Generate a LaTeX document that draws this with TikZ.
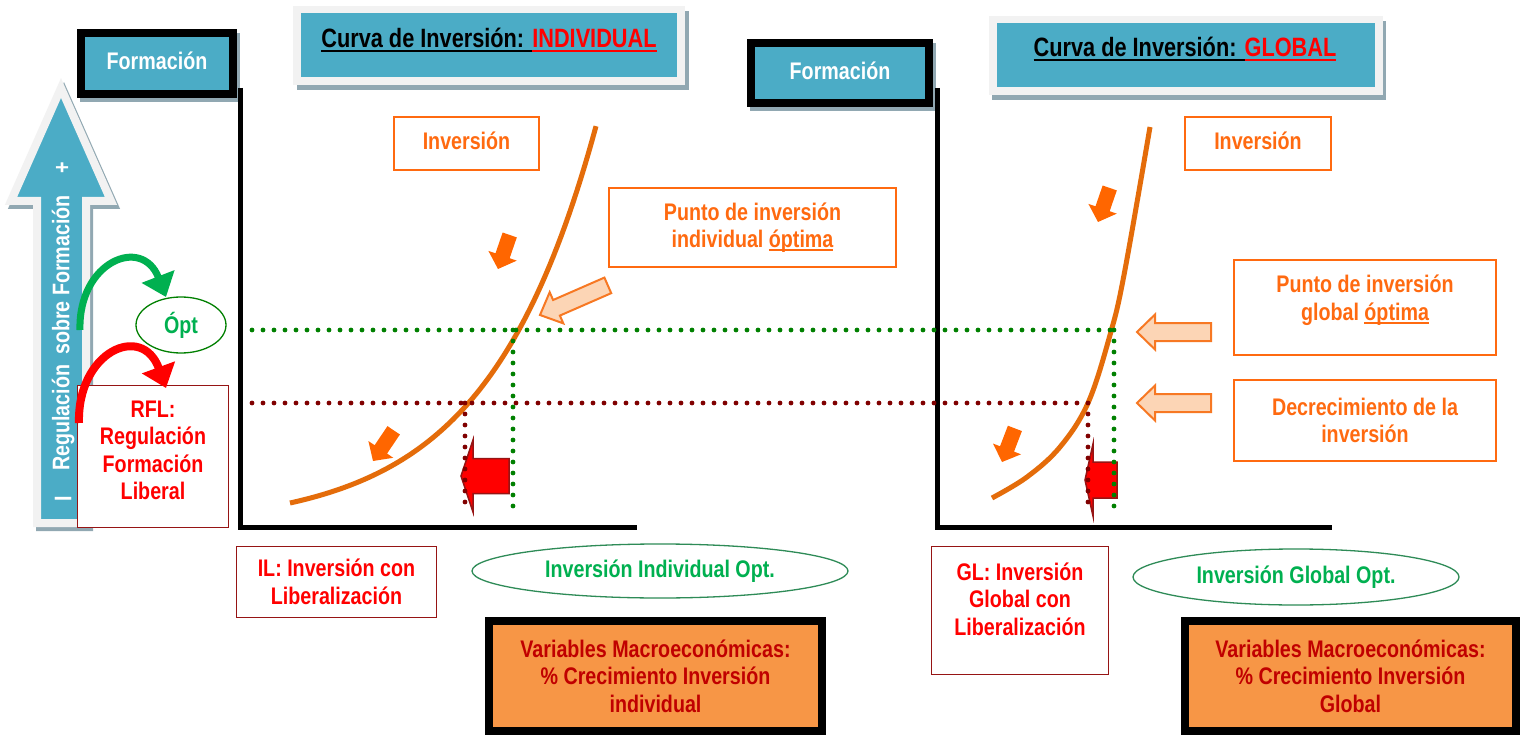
\documentclass[tikz,border=0pt]{standalone}
\usepackage{fontspec}
\setmainfont{Liberation Sans}[FakeStretch=0.82]
\usetikzlibrary{arrows.meta,shapes.geometric}
\pgfdeclarelayer{bg}
\pgfsetlayers{bg,main}
\definecolor{cTeal}{RGB}{75,172,198}
\definecolor{cLight}{RGB}{242,242,242}
\definecolor{cShadow}{RGB}{145,168,178}
\definecolor{cOrange}{RGB}{255,106,16}
\definecolor{cCurve}{RGB}{228,108,10}
\definecolor{cArrowO}{RGB}{255,102,0}
\definecolor{cPale}{RGB}{252,213,181}
\definecolor{cPaleEdge}{RGB}{247,120,35}
\definecolor{cBoxRed}{RGB}{150,20,20}
\definecolor{cRedText}{RGB}{255,0,0}
\definecolor{cGreen}{RGB}{0,176,80}
\definecolor{cDGreen}{RGB}{0,128,0}
\definecolor{cEllG}{RGB}{46,139,87}
\definecolor{cVarFill}{RGB}{247,150,70}
\definecolor{cVarText}{RGB}{192,0,0}
\definecolor{cDotRed}{RGB}{128,0,0}
\newcommand\myul[1]{\setbox0=\hbox{#1}\rlap{\rule[-3.6pt]{\wd0}{1.8pt}}\box0}
\newcommand\myfont{\fontsize{24}{27.5}\selectfont\bfseries}
\newcommand\mytitlefont{\fontsize{26.5}{30}\selectfont\bfseries}
\newcommand\myblockarrow[7]{%
  \path[#7, shift={#1}, rotate=#2] (0,0) -- (#4,{#5/2}) -- (#4,{#6/2}) -- (#3,{#6/2})
    -- (#3,{-#6/2}) -- (#4,{-#6/2}) -- (#4,{-#5/2}) -- cycle;}
\tikzset{
  txt/.style={font=\myfont, align=center, inner sep=0pt},
  obox/.style={txt, draw=cOrange, line width=2pt, text=cOrange, fill=white},
  rbox/.style={txt, draw=cBoxRed, line width=1.6pt, text=cRedText, fill=white},
  fbox/.style={txt, draw=black, line width=8pt, fill=cTeal, text=white},
  tbox/.style={draw=cLight, line width=7.5pt, fill=cTeal, inner sep=0pt},
  vbox/.style={txt, draw=black, line width=8pt, fill=cVarFill, text=cVarText},
  gell/.style={txt, ellipse, draw=cEllG, line width=1.3pt, text=cGreen, fill=white},
  gdot/.style={cDGreen, line width=4.8pt, line cap=round, dash pattern=on 0pt off 11pt},
  rdot/.style={cDotRed, line width=4.8pt, line cap=round, dash pattern=on 0pt off 11pt},
  axisline/.style={line width=5pt, black},
  invcurve/.style={cCurve, line width=5pt},
  oarr/.style={fill=cArrowO},
  parr/.style={fill=cPale, draw=cPaleEdge, line width=2pt},
  redarr/.style={fill=red, draw=cBoxRed, line width=1.5pt},
  shad/.style={fill=cShadow},
  vtxt/.style={font=\fontsize{24}{27}\selectfont\bfseries, text=white, rotate=90, inner sep=0pt},
}
\begin{document}
\begin{tikzpicture}[x=1pt, y=-1pt, line join=miter]
\useasboundingbox (0,0) rectangle (1520,735);
\begin{pgfonlayer}{bg}
  \fill[white] (0,0) rectangle (1520,735);
\end{pgfonlayer}

% ---------- big vertical arrow ----------
\begin{pgfonlayer}{bg}
  \draw[cShadow, fill=cShadow, line width=8pt, shift={(3,4)}]
    (61,88) -- (111,201) -- (86,201) -- (86,523) -- (37,523) -- (37,201) -- (11,201) -- cycle;
\end{pgfonlayer}
\draw[cLight, fill=cTeal, line width=8pt]
  (61,88) -- (111,201) -- (86,201) -- (86,523) -- (37,523) -- (37,201) -- (11,201) -- cycle;
\node[vtxt] (plusT) at (63,168) {+};
\node[vtxt] (regT) at (63,333) {Regulación\hspace{10pt}sobre Formación};
\node[vtxt] (minusT) at (63,499) {I};

% ---------- Formación boxes ----------
\node[fbox, minimum width=152, minimum height=61, text depth=5pt] (formL) at (157,63.5) {Formación};
\node[fbox, minimum width=178, minimum height=60, text depth=5pt] (formR) at (840,73) {Formación};
\begin{pgfonlayer}{bg}
  \fill[shad] ([shift={(3,4)}]formL.north west) rectangle ([shift={(3,4)}]formL.south east);
  \fill[shad] ([shift={(3,4)}]formR.north west) rectangle ([shift={(3,4)}]formR.south east);
\end{pgfonlayer}

% ---------- title boxes ----------
\node[tbox, minimum width=384, minimum height=71.5] (titleL) at (489,45.25) {};
\node[tbox, minimum width=386, minimum height=71.5] (titleR) at (1186,55.25) {};
\begin{pgfonlayer}{bg}
  \fill[shad] ([shift={(4,5)}]titleL.north west) rectangle ([shift={(4,5)}]titleL.south east);
  \fill[shad] ([shift={(3,5)}]titleR.north west) rectangle ([shift={(3,5)}]titleR.south east);
\end{pgfonlayer}
\node[font=\mytitlefont, inner sep=0pt, anchor=base] (titleLtxt) at (489,48)
  {\myul{Curva de Inversión: }\textcolor{cRedText}{\myul{INDIVIDUAL}}};
\node[font=\mytitlefont, inner sep=0pt, anchor=base] (titleRtxt) at (1185,57)
  {\myul{Curva de Inversión: }\textcolor{cRedText}{\myul{GLOBAL}}};

% ---------- orange label boxes ----------
\node[obox, minimum width=145, minimum height=53, text depth=6pt] (invL) at (466.5,143.5) {Inversión};
\node[obox, minimum width=146, minimum height=53, text depth=6pt] (invR) at (1258,143.5) {Inversión};
\node[obox, minimum width=287, minimum height=79] (puntoI) at (752.5,227.5) {Punto de inversión\\individual \myul{óptima}};
\node[obox, minimum width=262, minimum height=95] (puntoG) at (1365,307.5) {};
\node[txt, text=cOrange] (puntoGtxt) at (1365,300) {Punto de inversión\\global \myul{óptima}};
\node[obox, minimum width=262, minimum height=81] (decr) at (1365,420.5) {Decrecimiento de la\\inversión};

% ---------- axes ----------
\coordinate (yTopL) at (240,88);
\coordinate (origL) at (240,527);
\coordinate (xEndL) at (637,527);
\coordinate (yTopR) at (937,88);
\coordinate (origR) at (937,527);
\coordinate (xEndR) at (1332,527);
\draw[axisline] (yTopL) -- (origL) -- (xEndL);
\draw[axisline] (yTopR) -- (origR) -- (xEndR);

% ---------- red block arrows ----------
\myblockarrow{(461,476)}{0}{48}{12}{72}{35}{redarr}
\myblockarrow{(1085,480)}{0}{32}{8}{72}{36}{redarr}

% ---------- investment curves ----------
\draw[invcurve] plot[domain=290:596, samples=80] (\x, {527-24*exp(0.0092*(\x-290))});
\draw[invcurve] plot[smooth, tension=0.6] coordinates
  {(992,498) (1027,477) (1060,447) (1088,403) (1110,335) (1124,275) (1150,127)};

% ---------- dotted guide lines ----------
\coordinate (gStart) at (252,330);
\coordinate (gOptL) at (513,330);
\coordinate (gOptR) at (1114,330);
\coordinate (gEnd) at (1117,330);
\coordinate (gBotL) at (513,517);
\coordinate (gBotR) at (1114,517);
\coordinate (rStart) at (252,403);
\coordinate (rLibL) at (465,403);
\coordinate (rLibR) at (1088,403);
\coordinate (rBotL) at (465,513);
\coordinate (rBotR) at (1088,513);
\draw[gdot] (gStart) -- (gEnd);
\draw[gdot] (gOptL) -- (gBotL);
\draw[gdot] (gOptR) -- (gBotR);
\draw[rdot] (rStart) -- (rLibR);
\draw[rdot] (rLibL) -- (rBotL);
\draw[rdot] (rLibR) -- (rBotR);

% ---------- small orange arrows ----------
\myblockarrow{(498,269)}{71}{36}{14}{30}{15}{oarr}
\myblockarrow{(373,461)}{56}{37}{14}{30}{15}{oarr}
\myblockarrow{(1098,222)}{71}{36}{14}{30}{15}{oarr}
\myblockarrow{(1002,462)}{69}{36}{14}{30}{15}{oarr}

% ---------- pale pointer arrows ----------
\myblockarrow{(540,315)}{23.6}{74}{18}{34}{17}{parr}
\myblockarrow{(1137,332)}{0}{74}{18}{35}{18}{parr}
\myblockarrow{(1137,403)}{0}{74}{18}{35}{18}{parr}

% ---------- left side: Ópt and RFL ----------
\node[gell, minimum width=90, minimum height=56, draw=cDGreen] (opt) at (181,325) {Ópt};
\node[rbox, minimum width=151, minimum height=142] (rfl) at (153,456.5) {};
\node[txt, text=cRedText] (rfltxt) at (153,450.5) {RFL:\\Regulación\\Formación\\Liberal};
\draw[line width=7pt, cGreen, -{Triangle[length=22pt, width=34pt]}]
  (80,330) .. controls (78,262) and (142,235) .. (166,297);
\draw[line width=8pt, red, -{Triangle[length=22pt, width=34pt]}]
  (79,423) .. controls (77,352) and (142,322) .. (166,388);

% ---------- bottom labels ----------
\node[rbox, minimum width=200, minimum height=71] (il) at (336.5,582) {IL: Inversión con\\Liberalización};
\node[rbox, minimum width=177, minimum height=128] (gl) at (1020,610.5) {};
\node[txt, text=cRedText] (gltxt) at (1020,599) {GL: Inversión\\Global con\\Liberalización};
\node[gell, minimum width=376, minimum height=54] (ellL) at (660,571) {Inversión Individual Opt.};
\node[gell, minimum width=326, minimum height=56] (ellR) at (1296,577) {Inversión Global Opt.};
\node[vbox, minimum width=333, minimum height=110] (varL) at (655.5,676)
  {Variables Macroeconómicas:\\\% Crecimiento Inversión\\individual};
\node[vbox, minimum width=331, minimum height=110] (varR) at (1350.5,676)
  {Variables Macroeconómicas:\\\% Crecimiento Inversión\\Global};
\end{tikzpicture}
\end{document}
